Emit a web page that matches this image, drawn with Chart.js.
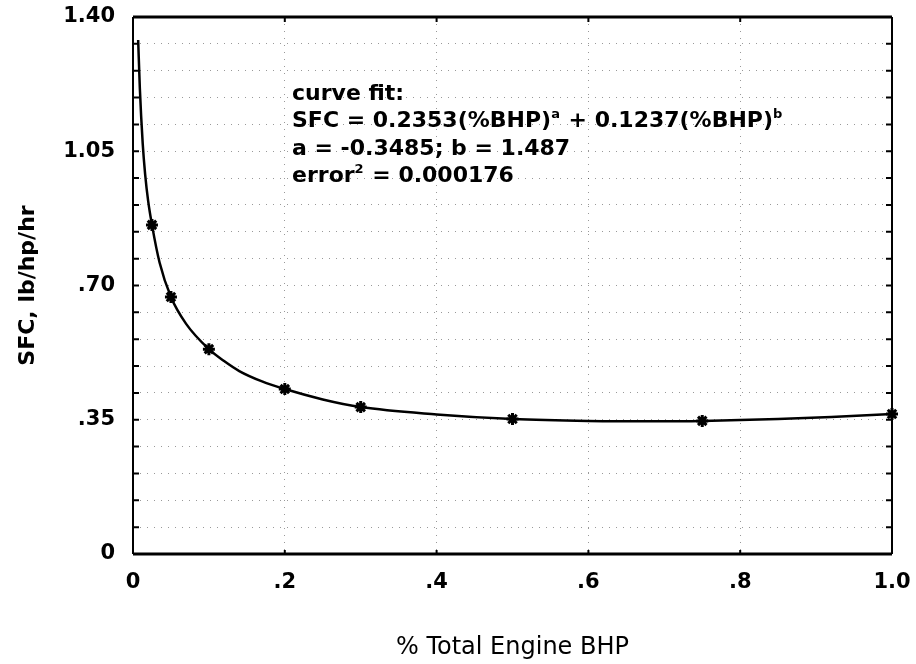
<!DOCTYPE html>
<html>
<head>
<meta charset="utf-8">
<script src="https://cdn.jsdelivr.net/npm/chart.js@4.4.1/dist/chart.umd.min.js"></script>
<style>
  html, body { margin: 0; padding: 0; background: #fff; }
  #wrap { width: 916px; height: 664px; position: relative; }
</style>
</head>
<body>
<div id="wrap"><canvas id="c"></canvas></div>
<script>
// ---- data ----
const markerX = [0.025, 0.05, 0.1, 0.2, 0.3, 0.5, 0.75, 1.0];
const markerY = [0.858, 0.670, 0.534, 0.430, 0.383, 0.352, 0.347, 0.365];

const curveX = [0.0068, 0.009, 0.0128, 0.016, 0.02, 0.025, 0.035, 0.05, 0.07, 0.1, 0.12, 0.14, 0.17, 0.2, 0.25, 0.3, 0.4, 0.5, 0.6, 0.7, 0.75, 0.85, 0.92, 1.0];
const curveY = [1.34, 1.215, 1.07, 0.99, 0.92, 0.858, 0.76, 0.670, 0.60, 0.534, 0.503, 0.477, 0.450, 0.430, 0.403, 0.383, 0.364, 0.352, 0.347, 0.346, 0.347, 0.352, 0.357, 0.365];

const xTickLabels = ['0', '.2', '.4', '.6', '.8', '1.0'];
const yTickLabels = ['0', '.35', '.70', '1.05', '1.40'];

const xTitle = '% Total Engine BHP';
const yTitle = 'SFC, lb/hp/hr';

// annotation text: arrays of [text, isSuperscript]
const noteLines = [
  [['curve fit:', false]],
  [['SFC = 0.2353(%BHP)', false], ['a', true], [' + 0.1237(%BHP)', false], ['b', true]],
  [['a = -0.3485; b = 1.487', false]],
  [['error', false], ['2', true], [' = 0.000176', false]]
];

const curvePts = curveX.map((x, i) => ({x, y: curveY[i]}));
const markerPts = markerX.map((x, i) => ({x, y: markerY[i]}));

const framePlugin = {
  id: 'frame',
  afterDraw(chart) {
    const {ctx, chartArea: a, scales} = chart;
    const xs = scales.x, ys = scales.y;
    ctx.save();
    ctx.strokeStyle = '#000';
    // inward tick marks
    ctx.lineWidth = 2;
    ys.ticks.forEach(t => {
      const y = ys.getPixelForValue(t.value);
      ctx.beginPath();
      ctx.moveTo(a.left, y); ctx.lineTo(a.left + 6, y);
      ctx.moveTo(a.right, y); ctx.lineTo(a.right - 6, y);
      ctx.stroke();
    });
    xs.ticks.forEach(t => {
      const x = xs.getPixelForValue(t.value);
      ctx.beginPath();
      ctx.moveTo(x, a.top); ctx.lineTo(x, a.top + 5);
      ctx.moveTo(x, a.bottom); ctx.lineTo(x, a.bottom - 4);
      ctx.stroke();
    });
    // frame
    ctx.lineWidth = 3;
    ctx.beginPath();
    ctx.moveTo(a.left, a.top); ctx.lineTo(a.right, a.top);
    ctx.moveTo(a.left, a.bottom); ctx.lineTo(a.right, a.bottom);
    ctx.stroke();
    ctx.lineWidth = 2;
    ctx.beginPath();
    ctx.moveTo(a.left, a.top); ctx.lineTo(a.left, a.bottom);
    ctx.moveTo(a.right, a.top); ctx.lineTo(a.right, a.bottom);
    ctx.stroke();

    // annotation
    const opt = chart.options.plugins.frame;
    const x0 = xs.getPixelForValue(opt.noteX);
    ctx.fillStyle = '#000';
    ctx.textBaseline = 'alphabetic';
    ctx.textAlign = 'left';
    noteLines.forEach((segs, li) => {
      let x = x0;
      const y = ys.getPixelForValue(opt.noteY[li]);
      segs.forEach(([txt, sup]) => {
        ctx.font = sup ? 'bold 13px "DejaVu Sans"' : 'bold 22px "DejaVu Sans"';
        ctx.fillText(txt, x, sup ? y - 9 : y);
        x += ctx.measureText(txt).width + (sup ? 1 : 0);
      });
    });
    ctx.restore();
  }
};

new Chart(document.getElementById('c'), {
  type: 'scatter',
  data: {
    datasets: [
      {
        type: 'line',
        data: curvePts,
        borderColor: '#000',
        borderWidth: 2.5,
        pointRadius: 0,
        fill: false,
        cubicInterpolationMode: 'monotone',
        clip: false
      },
      {
        type: 'scatter',
        data: markerPts,
        pointStyle: 'star',
        pointRadius: 6,
        borderWidth: 3,
        borderColor: '#000',
        backgroundColor: '#000',
        clip: false
      }
    ]
  },
  options: {
    responsive: true,
    maintainAspectRatio: false,
    animation: false,
    events: [],
    layout: { padding: { top: 17, right: 24, left: 0, bottom: 0 } },
    plugins: {
      legend: { display: false },
      tooltip: { enabled: false },
      frame: { noteX: 0.2095, noteY: [1.1836, 1.1132, 1.0402, 0.9698] }
    },
    scales: {
      x: {
        type: 'linear',
        min: 0, max: 1,
        afterFit(s) { s.height = 110; s.paddingLeft = 0; s.paddingRight = 0; },
        border: { display: false, dash: [1, 6] },
        grid: { color: 'rgba(0,0,0,0.4)', lineWidth: 1, drawTicks: false },
        ticks: {
          stepSize: 0.2,
          padding: 16,
          color: '#000',
          font: { family: '"DejaVu Sans"', size: 21, weight: 'bold' },
          callback: (v, i) => xTickLabels[i]
        },
        title: {
          display: true,
          text: xTitle,
          color: '#000',
          font: { family: '"DejaVu Sans"', size: 24 },
          padding: { top: 0, bottom: 2 }
        }
      },
      y: {
        type: 'linear',
        min: 0, max: 1.4,
        afterFit(s) { s.width = 133; s.paddingTop = 0; s.paddingBottom = 0; },
        border: { display: false, dash: [1, 6] },
        grid: { color: 'rgba(0,0,0,0.4)', lineWidth: 1, drawTicks: false },
        ticks: {
          stepSize: 0.07,
          autoSkip: false,
          padding: 18,
          color: '#000',
          font: { family: '"DejaVu Sans"', size: 21, weight: 'bold' },
          callback: (v, i) => (i % 5 === 0 ? yTickLabels[i / 5] : '')
        },
        title: {
          display: true,
          text: yTitle,
          color: '#000',
          font: { family: '"DejaVu Sans"', size: 22, weight: 'bold' },
          padding: { top: 15, bottom: 0 }
        }
      }
    }
  },
  plugins: [framePlugin]
});
</script>
</body>
</html>
